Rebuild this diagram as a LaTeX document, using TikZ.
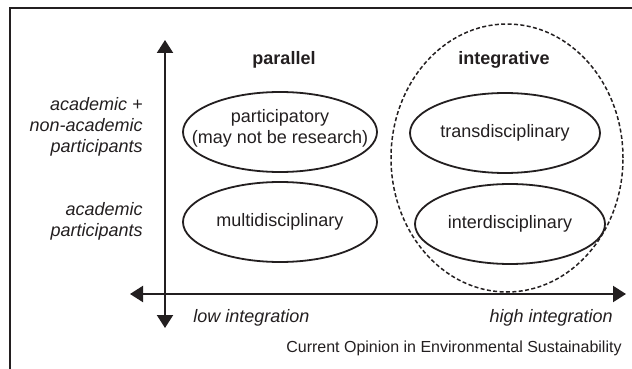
\documentclass[tikz,border=0pt]{standalone}
\usepackage{fontspec}
\setmainfont{Liberation Sans}
\usetikzlibrary{arrows.meta}
\definecolor{ink}{HTML}{231F20}
\begin{document}
\begin{tikzpicture}[x=0.5pt,y=-0.5pt,
  txt/.style={font=\fontsize{9}{10.5}\selectfont, text=ink, inner sep=0pt, align=center},
  side/.style={font=\fontsize{9}{10.5}\selectfont\itshape, text=ink, inner sep=0pt, align=right, anchor=east},
  head/.style={font=\fontsize{9}{10.5}\selectfont\bfseries, text=ink, inner sep=0pt},
  oval/.style={draw=ink, line width=0.9pt},
  axis/.style={draw=ink, line width=1.1pt, {Triangle[width=8pt,length=6.5pt]}-{Triangle[width=8pt,length=6.5pt]}},
  frameline/.style={draw=ink, line width=0.9pt}]
\useasboundingbox (0,0) rectangle (632,369);
% frame
\coordinate (fa) at (632,8);
\coordinate (fb) at (10,8);
\coordinate (fc) at (10,369);
\draw[frameline] (fa) -- (fb) -- (fc);
% axes
\coordinate (vt) at (165,40);
\coordinate (vb) at (165,328);
\coordinate (hl) at (130,294);
\coordinate (hr) at (626,294);
\draw[axis] (vb) -- (vt);
\draw[axis] (hl) -- (hr);
% headings
\node[head] (par) at (284,60) {parallel};
\node[head] (int) at (504,60) {integrative};
% dashed group
\coordinate (grp) at (507,158);
\draw[ink, line width=0.75pt, dash pattern=on 2pt off 1.2pt] (grp) ellipse [x radius=58pt, y radius=67pt];
% ovals
\node[txt] (part) at (280,128) {participatory\\(may not be research)};
\draw[oval] (280,132) ellipse [x radius=48.5pt, y radius=20pt];
\node[txt] (multi) at (280,222) {multidisciplinary};
\draw[oval] (280,222) ellipse [x radius=48.5pt, y radius=20pt];
\node[txt] (trans) at (505,133) {transdisciplinary};
\draw[oval] (505,133) ellipse [x radius=47.5pt, y radius=20pt];
\node[txt] (inter) at (510,224) {interdisciplinary};
\draw[oval] (510,224) ellipse [x radius=47.5pt, y radius=20pt];
% side labels
\node[side] (nonac) at (143,127) {academic +\\non-academic\\participants};
\node[side] (ac) at (143,221) {academic\\participants};
% axis labels
\node[side, anchor=west] (low) at (193,318) {low integration};
\node[side] (high) at (613,318) {high integration};
\node[font=\fontsize{8}{9}\selectfont, text=ink, inner sep=0pt, anchor=east] (src) at (622,348) {Current Opinion in Environmental Sustainability};
\end{tikzpicture}
\end{document}
